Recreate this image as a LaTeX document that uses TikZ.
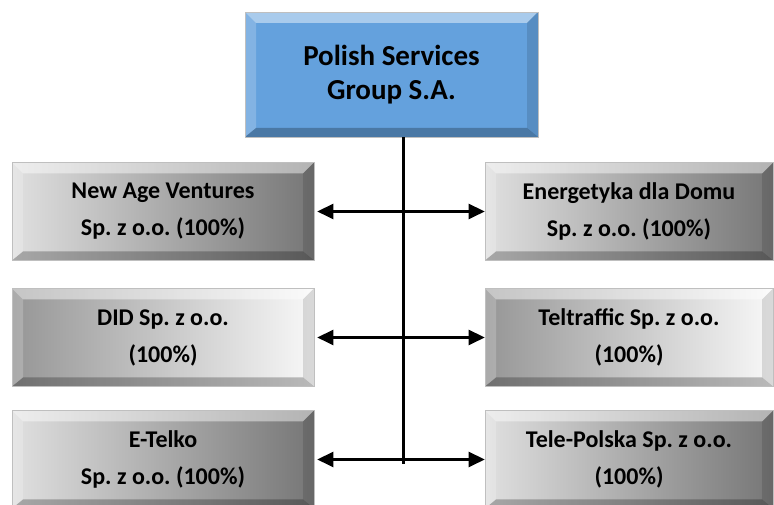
\documentclass[tikz,border=0pt]{standalone}
\usepackage{fontspec}
\setmainfont{Carlito}
\frenchspacing
\usetikzlibrary{arrows.meta}
\definecolor{psgblue}{RGB}{100,161,221}
\definecolor{lightgrey}{RGB}{224,224,224}
\definecolor{midgrey}{RGB}{150,150,150}
\definecolor{darkgrey}{RGB}{118,118,118}
\definecolor{paper}{RGB}{248,248,248}
\tikzset{
	bevel/.style={path picture={
		\fill[white,opacity=0.45] (path picture bounding box.north west) -- (path picture bounding box.north east) -- ([shift={(-11,-11)}]path picture bounding box.north east) -- ([shift={(11,-11)}]path picture bounding box.north west) -- cycle;
		\fill[white,opacity=0.2] (path picture bounding box.north west) -- ([shift={(11,-11)}]path picture bounding box.north west) -- ([shift={(11,9)}]path picture bounding box.south west) -- (path picture bounding box.south west) -- cycle;
		\fill[black,opacity=0.25] (path picture bounding box.south west) -- (path picture bounding box.south east) -- ([shift={(-11,9)}]path picture bounding box.south east) -- ([shift={(11,9)}]path picture bounding box.south west) -- cycle;
		\fill[black,opacity=0.12] (path picture bounding box.north east) -- ([shift={(-11,-11)}]path picture bounding box.north east) -- ([shift={(-11,9)}]path picture bounding box.south east) -- (path picture bounding box.south east) -- cycle;
	}},
	firm/.style={draw=gray!50, line width=0.6pt, minimum width=302pt, minimum height=98pt, inner sep=0pt, align=center, font=\fontsize{24}{37}\selectfont\bfseries, bevel},
	rootbox/.style={draw=gray!50, line width=0.6pt, fill=psgblue, minimum width=293pt, minimum height=125pt, inner sep=0pt, align=center, font=\fontsize{29}{34}\selectfont\bfseries, bevel},
	link/.style={{Triangle[length=16pt,width=15pt]}-{Triangle[length=16pt,width=15pt]}, line width=2.5pt, shorten <=3pt},
	stem/.style={line width=3pt}
}
\begin{document}
\begin{tikzpicture}[x=1pt,y=1pt]
		\clip (0,0) rectangle (774,505);
		\node[rootbox] (psg) at (391.5,430.5) {Polish Services\\Group S.A.};
		\node[firm,left color=lightgrey,right color=darkgrey] (nav) at (163,293.5) {New Age Ventures\\Sp. z o.o. (100\%)};
		\node[firm,left color=midgrey,right color=paper] (did) at (163,167.5) {DID Sp. z o.o.\\(100\%)};
		\node[firm,left color=lightgrey,right color=darkgrey] (etelko) at (163,45.5) {E-Telko\\Sp. z o.o. (100\%)};
		\node[firm,minimum width=288pt,left color=lightgrey,right color=darkgrey] (edd) at (629,293.5) {Energetyka dla Domu\\Sp. z o.o. (100\%)};
		\node[firm,minimum width=288pt,left color=midgrey,right color=paper] (teltraffic) at (629,167.5) {Teltraffic Sp. z o.o.\\(100\%)};
		\node[firm,minimum width=288pt,left color=lightgrey,right color=darkgrey] (telepolska) at (629,45.5) {Tele-Polska Sp. z o.o.\\(100\%)};
		\coordinate (foot) at (403,41);
		\draw[stem] (psg.south -| foot) -- (foot);
		\draw[link] (nav.east) -- (edd.west);
		\draw[link] (did.east) -- (teltraffic.west);
		\draw[link] (etelko.east) -- (telepolska.west);
\end{tikzpicture}
\end{document}
